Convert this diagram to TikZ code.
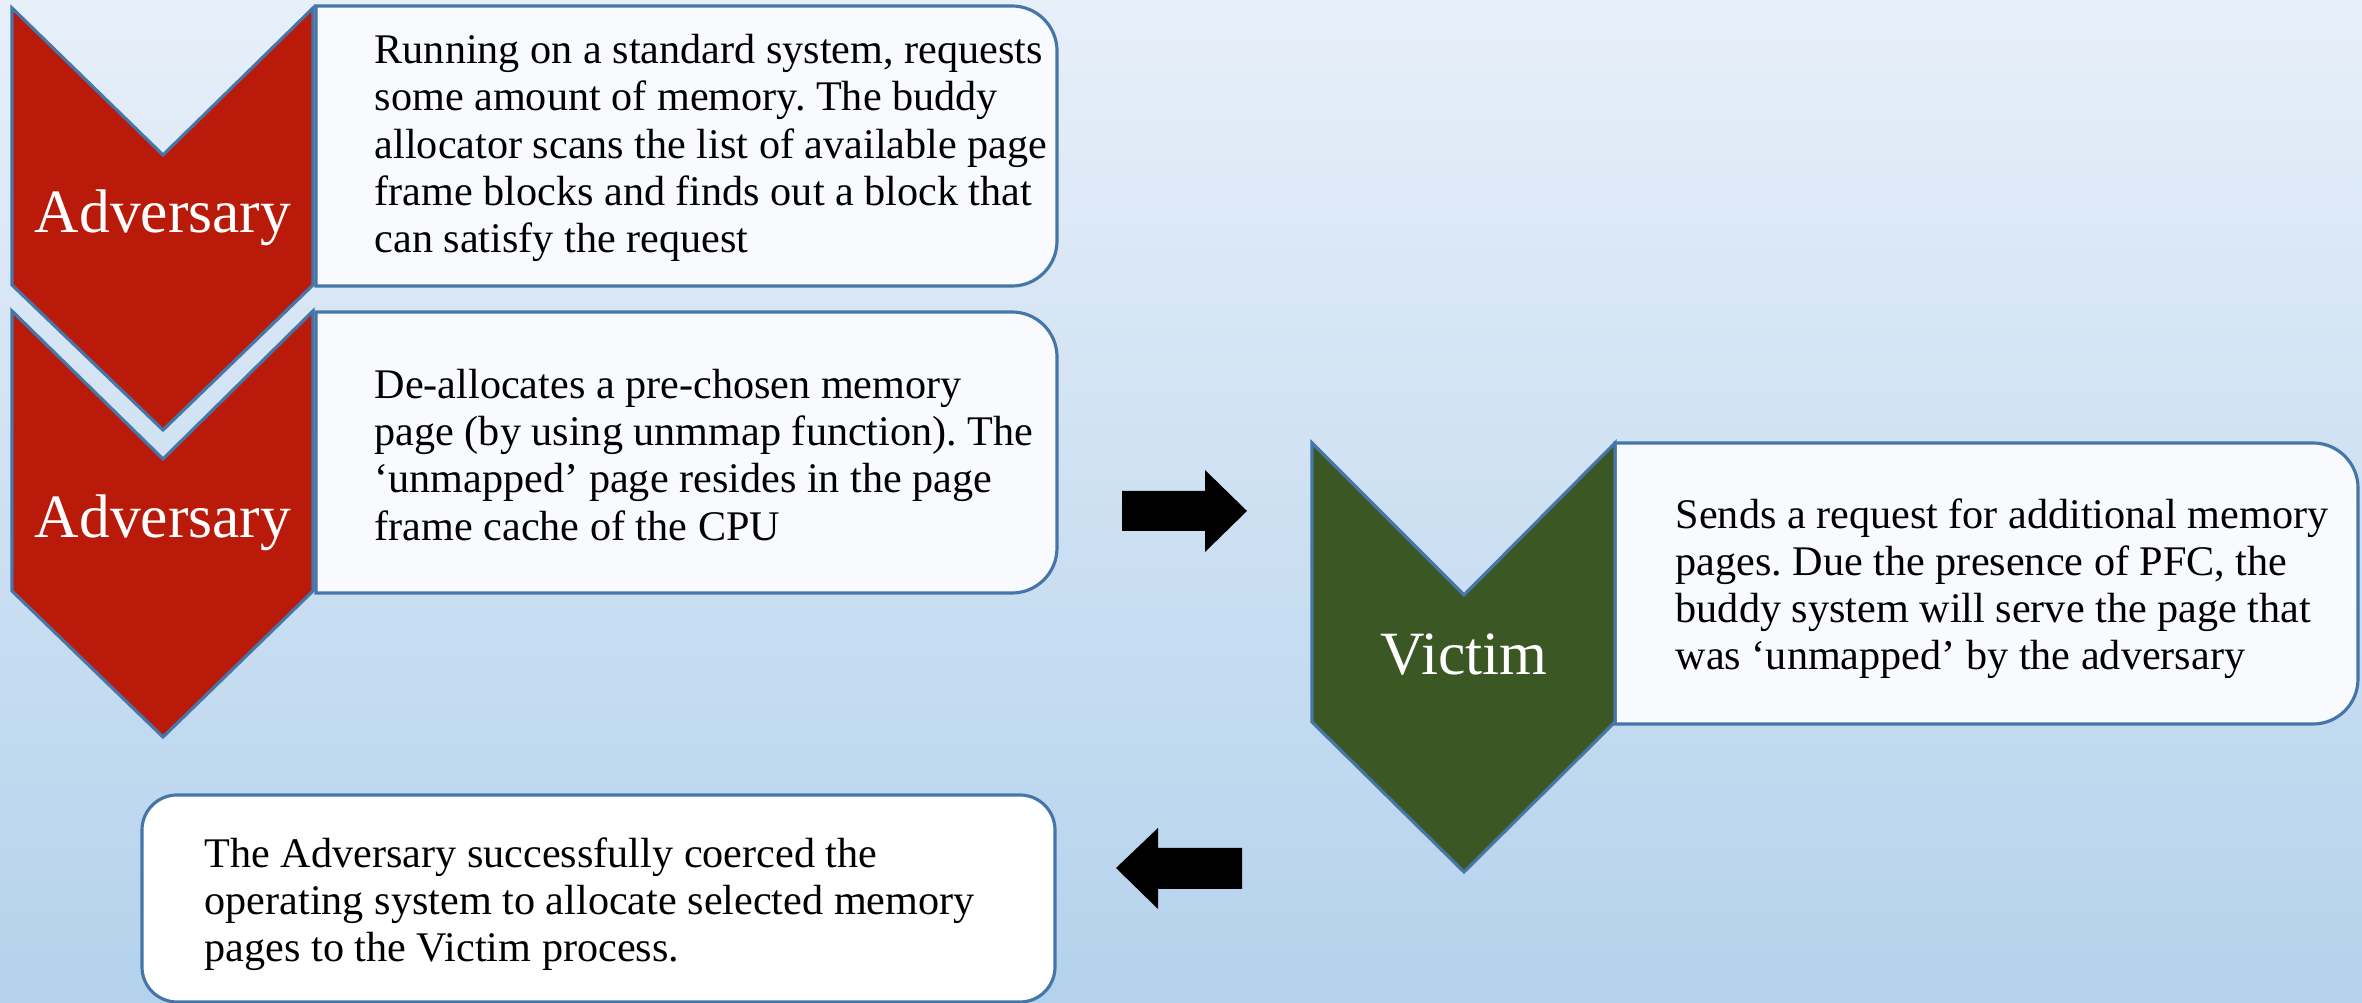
\documentclass[tikz,border=0pt]{standalone}
\usepackage{fontspec}
\setmainfont{Liberation Serif}
\frenchspacing
\definecolor{pagetop}{RGB}{231,239,249}
\definecolor{pagebottom}{RGB}{180,210,236}
\definecolor{advred}{RGB}{186,26,10}
\definecolor{vicgreen}{RGB}{59,87,36}
\definecolor{edgeblue}{RGB}{70,118,168}
\definecolor{boxwhite}{RGB}{248,250,253}
\tikzset{
    advchevron/.style={fill=advred,draw=edgeblue,line width=0.9pt},
    vicchevron/.style={fill=vicgreen,draw=edgeblue,line width=0.9pt},
    stepbox/.style={fill=boxwhite,draw=edgeblue,line width=0.9pt},
    resultbox/.style={fill=white,draw=edgeblue,line width=0.9pt,rounded corners=0.35cm},
    roletext/.style={text=white,inner sep=0pt,font=\fontsize{17.5}{20}\selectfont},
    steptext/.style={anchor=west,align=left,inner sep=0pt,font=\fontsize{12}{13.4}\selectfont},
    blockarrow/.style={fill=black,draw=none}
}

\begin{document}
\begin{tikzpicture}[x=0.01cm,y=0.01cm]
    % Page
    \shade[top color=pagetop,bottom color=pagebottom] (0,0) rectangle (2362,1003);
    \useasboundingbox (0,0) rectangle (2362,1003);
    % Step boxes, square on the chevron side
    \draw[stepbox] (316,717) -- (316,997) -- (1012,997) arc[start angle=90,end angle=0,radius=0.45cm]
        -- (1057,762) arc[start angle=0,end angle=-90,radius=0.45cm] -- cycle;
    \draw[stepbox] (316,410) -- (316,691) -- (1012,691) arc[start angle=90,end angle=0,radius=0.45cm]
        -- (1057,455) arc[start angle=0,end angle=-90,radius=0.45cm] -- cycle;
    \draw[stepbox] (1615,279) -- (1615,560) -- (2313,560) arc[start angle=90,end angle=0,radius=0.45cm]
        -- (2358,324) arc[start angle=0,end angle=-90,radius=0.45cm] -- cycle;
    % Result box
    \draw[resultbox] (142,1) rectangle (1055,208);
    % Chevrons
    \draw[advchevron] (12,995) -- (163,848) -- (313,995) -- (313,718) -- (163,573) -- (12,718) -- cycle;
    \draw[advchevron] (12,692) -- (163,544) -- (313,692) -- (313,412) -- (163,266) -- (12,412) -- cycle;
    \draw[vicchevron] (1312,560) -- (1464,408) -- (1615,560) -- (1615,281) -- (1464,131) -- (1312,281) -- cycle;
    % Roles
    \node[roletext] (adv1) at (163,785) {Adversary};
    \node[roletext] (adv2) at (163,480) {Adversary};
    \node[roletext] (vic) at (1464,348) {Victim};
    % Texts
    \node[steptext] (req) at (374,855) {Running on a standard system, requests\\some amount of memory. The buddy\\allocator scans the list of available page\\frame blocks and finds out a block that\\can satisfy the request};
    \node[steptext] (free) at (374,548) {De-allocates a pre-chosen memory\\page (by using unmmap function). The\\‘unmapped’ page resides in the page\\frame cache of the CPU};
    \node[steptext] (ask) at (1675,414) {Sends a request for additional memory\\pages. Due the presence of PFC, the\\buddy system will serve the page that\\was ‘unmapped’ by the adversary};
    \node[steptext] (done) at (204,99) {The Adversary successfully coerced the\\operating system to allocate selected memory\\pages to the Victim process.};
    % Block arrows
    \fill[blockarrow] (1122,472) -- (1205,472) -- (1205,451) -- (1247,492) -- (1205,533) -- (1205,512) -- (1122,512) -- cycle;
    \fill[blockarrow] (1242,114) -- (1158,114) -- (1158,94) -- (1116,135) -- (1158,175) -- (1158,155) -- (1242,155) -- cycle;
\end{tikzpicture}
\end{document}
